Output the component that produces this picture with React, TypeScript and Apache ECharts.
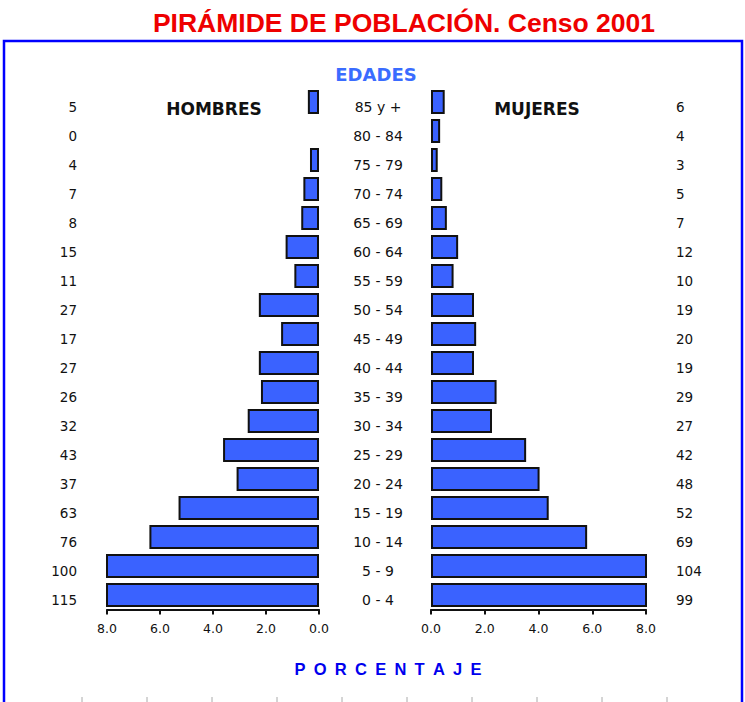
import React, { useEffect, useRef } from "react";
import * as echarts from "echarts";

const ages = ["0 - 4", "5 - 9", "10 - 14", "15 - 19", "20 - 24", "25 - 29", "30 - 34", "35 - 39", "40 - 44", "45 - 49", "50 - 54", "55 - 59", "60 - 64", "65 - 69", "70 - 74", "75 - 79", "80 - 84", "85 y +"];
const menCounts = [115, 100, 76, 63, 37, 43, 32, 26, 27, 17, 27, 11, 15, 8, 7, 4, 0, 5];
const womenCounts = [99, 104, 69, 52, 48, 42, 27, 29, 19, 20, 19, 10, 12, 7, 5, 3, 4, 6];
const menPct = [9.68, 8.42, 6.4, 5.3, 3.11, 3.62, 2.69, 2.19, 2.27, 1.43, 2.27, 0.93, 1.26, 0.67, 0.59, 0.34, 0, 0.42];
const womenPct = [8.33, 8.75, 5.81, 4.38, 4.04, 3.54, 2.27, 2.44, 1.6, 1.68, 1.6, 0.84, 1.01, 0.59, 0.42, 0.25, 0.34, 0.51];
const xTicks = { min: 0, max: 8, interval: 2 };

const ARIAL = "'Liberation Sans', Arial, sans-serif";
const DEJAVU = "'DejaVu Sans', sans-serif";

export default function App() {
  const ref = useRef<HTMLDivElement>(null);
  useEffect(() => {
    if (!ref.current) return;
    const chart = echarts.init(ref.current, null, { renderer: "svg" });
    const labelBase = { fontFamily: DEJAVU, fontSize: 13.5, color: "#111", verticalAlign: "top", lineHeight: 9 };
    const xAxisBase = {
      type: "value",
      min: xTicks.min,
      max: xTicks.max,
      interval: xTicks.interval,
      splitLine: { show: false },
      axisLine: { show: true, lineStyle: { color: "#111", width: 2 } },
      axisTick: { show: true, length: 5, lineStyle: { color: "#111", width: 2 } },
      axisLabel: { fontFamily: DEJAVU, fontSize: 12.5, color: "#111", margin: 12, formatter: (v: number) => v.toFixed(1) },
    };
    const hiddenY = {
      type: "category",
      data: ages,
      axisLine: { show: false },
      axisTick: { show: false },
      splitLine: { show: false },
    };
    const barStyle = { color: "#3a62ff", borderColor: "#111", borderWidth: 2 };
    const toBars = (arr: number[]) => arr.map((v) => (v === 0 ? { value: v, itemStyle: { borderWidth: 0 } } : v));
    const ticks = [];
    for (let k = 0; k < 10; k++) {
      ticks.push({ type: "line", shape: { x1: 82 + 65 * k, y1: 697, x2: 82 + 65 * k, y2: 702 }, style: { stroke: "#aaa", lineWidth: 1 } });
    }
    chart.setOption({
      animation: false,
      backgroundColor: "#fff",
      title: [
        { text: "PIRÁMIDE DE POBLACIÓN. Censo 2001", left: 399, top: 4, textAlign: "center", textStyle: { fontFamily: ARIAL, fontSize: 26.5, fontWeight: "bold", color: "#ee0000" } },
        { text: "EDADES", left: 371, top: 60, textAlign: "center", textStyle: { fontFamily: DEJAVU, fontSize: 18, fontWeight: "bold", color: "#3a6cff" } },
        { text: "HOMBRES", left: 209, top: 95, textAlign: "center", textStyle: { fontFamily: DEJAVU, fontSize: 17, fontWeight: "bold", color: "#111" } },
        { text: "MUJERES", left: 532, top: 95, textAlign: "center", textStyle: { fontFamily: DEJAVU, fontSize: 17, fontWeight: "bold", color: "#111" } },
        { text: "P\u2002O\u2002R\u2002C\u2002E\u2002N\u2002T\u2002A\u2002J\u2002E", left: 383, top: 655, textAlign: "center", textStyle: { fontFamily: ARIAL, fontSize: 16.5, fontWeight: "bold", color: "#0000ee" } },
      ],
      graphic: [
        { type: "rect", shape: { x: 4, y: 41, width: 738, height: 700 }, style: { fill: "none", stroke: "#0000ff", lineWidth: 2.5 }, z: 10 },
        ...ticks,
      ],
      grid: [
        { left: 107, width: 212, top: 87.5, height: 522 },
        { left: 431, width: 215, top: 87.5, height: 522 },
      ],
      xAxis: [
        { ...xAxisBase, gridIndex: 0, inverse: true },
        { ...xAxisBase, gridIndex: 1 },
      ],
      yAxis: [
        { ...hiddenY, gridIndex: 0, position: "left", axisLabel: { ...labelBase, margin: 30, formatter: (_: string, i: number) => String(menCounts[i]) } },
        { ...hiddenY, gridIndex: 0, position: "right", axisLabel: { ...labelBase, fontSize: 14, margin: 59, align: "center" } },
        { ...hiddenY, gridIndex: 1, position: "right", axisLabel: { ...labelBase, margin: 30, align: "left", formatter: (_: string, i: number) => String(womenCounts[i]) } },
      ],
      series: [
        { type: "bar", name: "Hombres", xAxisIndex: 0, yAxisIndex: 0, data: toBars(menPct), barWidth: 24, itemStyle: barStyle, clip: true },
        { type: "bar", name: "Mujeres", xAxisIndex: 1, yAxisIndex: 2, data: toBars(womenPct), barWidth: 24, itemStyle: barStyle, clip: true },
      ],
    });
    return () => chart.dispose();
  }, []);
  return <div ref={ref} style={{ position: "fixed", left: 0, top: 0, width: 745, height: 702 }} />;
}
